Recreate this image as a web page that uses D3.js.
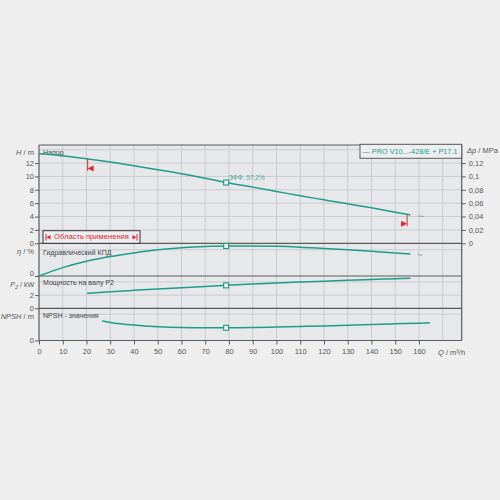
<!DOCTYPE html>
<html><head><meta charset="utf-8">
<script src="https://cdn.jsdelivr.net/npm/d3@7"></script>
<style>body{margin:0;background:#eeeeee;} svg{display:block;font-family:"Liberation Sans",Arial,sans-serif}</style>
</head><body><svg id="c" width="500" height="500"></svg>
<script>
// ---- data ----
const headQ = [0, 10, 20, 30, 40, 50, 60, 70, 78.8, 90, 100, 110, 120, 130, 140, 150, 156.4];
const headH = [13.4, 13.1, 12.65, 12.15, 11.6, 11.0, 10.4, 9.72, 9.09, 8.4, 7.75, 7.1, 6.5, 5.9, 5.3, 4.65, 4.25];
const headExtQ = [159.5, 162];
const headExtH = [4.08, 4.02];

const effQ = [0, 10, 20, 30, 40, 50, 60, 70, 78.8, 90, 100, 110, 120, 130, 140, 150, 156.4];
const effV = [0, 16, 28, 37, 44, 50, 54, 56.3, 57.2, 57.2, 56.6, 55, 52.5, 50, 47, 44, 41.8];
const effExtQ = [159.5, 161.5];
const effExtV = [40.3, 39.9];

const powQ = [20.3, 30, 40, 50, 60, 70, 78.8, 90, 100, 110, 120, 130, 140, 150, 156.4];
const powP = [2.26, 2.5, 2.72, 2.93, 3.13, 3.32, 3.48, 3.67, 3.83, 3.98, 4.12, 4.26, 4.38, 4.5, 4.56];

const npshQ = [26.6, 30, 40, 50, 60, 70, 78.8, 90, 100, 110, 120, 130, 140, 150, 160, 164.6];
const npshV = [2.95, 2.75, 2.35, 2.1, 1.97, 1.93, 1.93, 1.97, 2.05, 2.13, 2.22, 2.32, 2.42, 2.53, 2.64, 2.7];

const dutyQ = 78.8;
const dutyH = 9.09, dutyEff = 57.2, dutyP = 3.48, dutyNpsh = 1.93;
const rangeQ = [20.5, 155];

const qTicks = [0,10,20,30,40,50,60,70,80,90,100,110,120,130,140,150,160];
const hTicks = [0,2,4,6,8,10,12];
const pTicksR = [0,0.02,0.04,0.06,0.08,0.1,0.12];
const effTicks = [0];
const powTicks = [0,2];
const npshTicks = [0];

const legendText = "— PRO V10...-428/E + P17.1";
const effLabel = "ЭФФ.  57,2%";
const rangeLabel = "Область применения";

// ---- layout ----
const svg = d3.select("#c");
const X0 = 39, X1 = 461.7, YT = 145;
const x = d3.scaleLinear().domain([0, 178]).range([X0, X1]);
const yH = d3.scaleLinear().domain([0, 14.7]).range([243.3, YT]);
const yDp = d3.scaleLinear().domain([0, 0.147]).range([243.3, YT]);
const yE = d3.scaleLinear().domain([0, 62.3]).range([276, 243.3]);
const yP = d3.scaleLinear().domain([0, 4.9]).range([308.3, 276]);
const yN = d3.scaleLinear().domain([0, 4.9]).range([340.5, 308.3]);

const TEAL = "#1f9c88", GRID = "#c9cbce", DARK = "#5a5a5a", TXT = "#555", RED = "#e3262d";

svg.append("rect").attr("x", X0).attr("y", YT).attr("width", X1 - X0).attr("height", 340.5 - YT).attr("fill", "#e7e8eb");

// vertical grid
const g = svg.append("g");
g.selectAll("line.v").data(d3.range(10, 171, 10)).enter().append("line")
  .attr("x1", d => x(d)).attr("x2", d => x(d)).attr("y1", YT).attr("y2", 340.5)
  .attr("stroke", GRID).attr("stroke-width", 1);
// horizontal grid
const hg = [];
[2,4,6,8,10,12,14].forEach(v => hg.push(yH(v)));
hg.push(yE(50)); hg.push(yP(2)); hg.push(yP(4)); hg.push(yN(4));
g.selectAll("line.h").data(hg).enter().append("line")
  .attr("x1", X0).attr("x2", X1).attr("y1", d => d).attr("y2", d => d)
  .attr("stroke", GRID).attr("stroke-width", 1);

// panel borders
[YT, 243.3, 276, 308.3, 340.5].forEach(yy => svg.append("line").attr("x1", X0).attr("x2", X1)
  .attr("y1", yy).attr("y2", yy).attr("stroke", DARK).attr("stroke-width", 1.2));
svg.append("line").attr("x1", X1).attr("x2", X1).attr("y1", YT).attr("y2", 340.5).attr("stroke", DARK).attr("stroke-width", 1.2);
svg.append("line").attr("x1", X0).attr("x2", X0).attr("y1", YT).attr("y2", 340.5).attr("stroke", DARK).attr("stroke-width", 1.2);

// axes
function leftAxis(scale, major, minorStep, maxV) {
  const ax = svg.append("g").attr("transform", `translate(${X0},0)`);
  ax.call(d3.axisLeft(scale).tickValues(d3.range(0, maxV + 1e-9, minorStep)).tickSize(2).tickFormat(""));
  ax.call(d3.axisLeft(scale).tickValues(major).tickSize(4).tickFormat(d3.format("d")));
  ax.select(".domain").remove();
  ax.selectAll("line").attr("stroke", DARK);
  ax.selectAll("text").attr("fill", TXT).attr("font-size", 7.5).attr("x", -5);
  return ax;
}
leftAxis(yH, hTicks, 0.4, 14.6);
const axE = leftAxis(yE, effTicks, 10, 62);
axE.selectAll("text").attr("dy", "-0.05em");
leftAxis(yP, powTicks, 0.4, 4.9);
leftAxis(yN, npshTicks, 0.8, 4.9);

const axR = svg.append("g").attr("transform", `translate(${X1},0)`);
axR.call(d3.axisRight(yDp).tickValues(d3.range(0, 0.1461, 0.004)).tickSize(2).tickFormat(""));
axR.call(d3.axisRight(yDp).tickValues(pTicksR).tickSize(4).tickFormat(d => d3.format("~g")(d).replace(".", ",")));
axR.select(".domain").remove();
axR.selectAll("line").attr("stroke", DARK);
axR.selectAll("text").attr("fill", TXT).attr("font-size", 7.5).attr("x", 7);

const axB = svg.append("g").attr("transform", `translate(0,340.5)`);
axB.call(d3.axisBottom(x).tickValues(d3.range(0, 177, 2)).tickSize(2.5).tickFormat(""));
axB.call(d3.axisBottom(x).tickValues(qTicks).tickSize(4).tickFormat(d3.format("d")));
axB.select(".domain").remove();
axB.selectAll("line").attr("stroke", DARK);
axB.selectAll("text").attr("fill", TXT).attr("font-size", 7.5).attr("y", 8);

// unit labels
function unit(xx, yy, parts, anchor, fs) {
  const t = svg.append("text").attr("x", xx).attr("y", yy).attr("text-anchor", anchor || "end")
    .attr("dominant-baseline", "middle").attr("font-size", fs || 7.5).attr("fill", TXT);
  parts.forEach(p => t.append("tspan").attr("font-style", p[1] ? "italic" : null)
    .attr("baseline-shift", p[2] ? "sub" : null).attr("font-size", p[2] ? 5.5 : null).text(p[0]));
}
unit(34, 153, [["H", 1], [" / m"]]);
unit(34, 252, [["η", 1], [" / %"]]);
unit(34, 285, [["P", 1], ["2", 1, 1], [" / kW"]], "end", 7);
unit(34, 316.7, [["NPSH", 1], [" / m"]]);
unit(467, 150.5, [["Δp", 1], [" / MPa"]], "start");
unit(438, 352.5, [["Q", 1], [" / m³/h"]], "start");

// panel titles
[["Напор", 153.5], ["Гидравлический КПД", 253], ["Мощность на валу P2", 283.5], ["NPSH - значения", 316]]
  .forEach(d => svg.append("text").attr("x", 43).attr("y", d[1]).attr("dominant-baseline", "middle")
    .attr("font-size", 7).attr("fill", "#444").text(d[0]));

// curves
const ln = (ys) => d3.line().x(d => x(d[0])).y(d => ys(d[1])).curve(d3.curveMonotoneX);
function curve(qs, vs, ys, color, w) {
  svg.append("path").datum(d3.zip(qs, vs)).attr("d", ln(ys)).attr("fill", "none")
    .attr("stroke", color).attr("stroke-width", w);
}
curve(headQ, headH, yH, TEAL, 1.5);
curve(headExtQ, headExtH, yH, "#8aa8a2", 1);
curve(effQ, effV, yE, TEAL, 1.5);
curve(effExtQ, effExtV, yE, "#8aa8a2", 1);
curve(powQ, powP, yP, TEAL, 1.5);
curve(npshQ, npshV, yN, TEAL, 1.5);

// duty markers
[[yH, dutyH], [yE, dutyEff], [yP, dutyP], [yN, dutyNpsh]].forEach(d =>
  svg.append("rect").attr("x", x(dutyQ) - 2.5).attr("y", d[0](d[1]) - 2.5).attr("width", 5).attr("height", 5)
    .attr("fill", "#eef0f0").attr("stroke", TEAL).attr("stroke-width", 1.1));
svg.append("text").attr("x", x(dutyQ) + 2).attr("y", yH(dutyH) - 4).attr("dominant-baseline", "middle")
  .attr("font-size", 6.5).attr("fill", "#55a89c").text(effLabel);

// operating range flags
const headAt = q => {
  const i = d3.bisectLeft(headQ, q);
  const t = (q - headQ[i - 1]) / (headQ[i] - headQ[i - 1]);
  return headH[i - 1] + t * (headH[i] - headH[i - 1]);
};
rangeQ.forEach((q, k) => {
  const xx = x(q), y0 = yH(headAt(q)), y1 = y0 + 12;
  svg.append("line").attr("x1", xx).attr("x2", xx).attr("y1", y0).attr("y2", y1).attr("stroke", RED).attr("stroke-width", 1);
  const dir = k === 0 ? 1 : -1;
  svg.append("path").attr("d", `M${xx},${y1 - 2.5} L${xx + dir * 6},${y1 - 5.5} L${xx + dir * 6},${y1 + 0.5} Z`).attr("fill", RED);
});

// legend
svg.append("rect").attr("x", 360).attr("y", 144.3).attr("width", X1 - 360).attr("height", 14)
  .attr("fill", "#eceef0").attr("stroke", DARK).attr("stroke-width", 1);
svg.append("text").attr("x", 362.5).attr("y", 151.5).attr("dominant-baseline", "middle")
  .attr("font-size", 7.6).attr("fill", TEAL).attr("textLength", 95).attr("lengthAdjust", "spacingAndGlyphs")
  .text(legendText);

// range box
svg.append("rect").attr("x", 43).attr("y", 230.7).attr("width", 97).attr("height", 12.6)
  .attr("fill", "#eceef0").attr("stroke", "#333").attr("stroke-width", 1);
svg.append("text").attr("x", 91.5).attr("y", 237.3).attr("text-anchor", "middle").attr("dominant-baseline", "middle")
  .attr("font-size", 7.6).attr("fill", RED).text(rangeLabel);
// arrows |◂ ... ▸|
svg.append("line").attr("x1", 46).attr("x2", 46).attr("y1", 234).attr("y2", 240.5).attr("stroke", RED);
svg.append("path").attr("d", "M46.5,237.3 L50.5,235 L50.5,239.6 Z").attr("fill", RED);
svg.append("line").attr("x1", 137).attr("x2", 137).attr("y1", 234).attr("y2", 240.5).attr("stroke", RED);
svg.append("path").attr("d", "M136.5,237.3 L132.5,235 L132.5,239.6 Z").attr("fill", RED);
</script></body></html>
